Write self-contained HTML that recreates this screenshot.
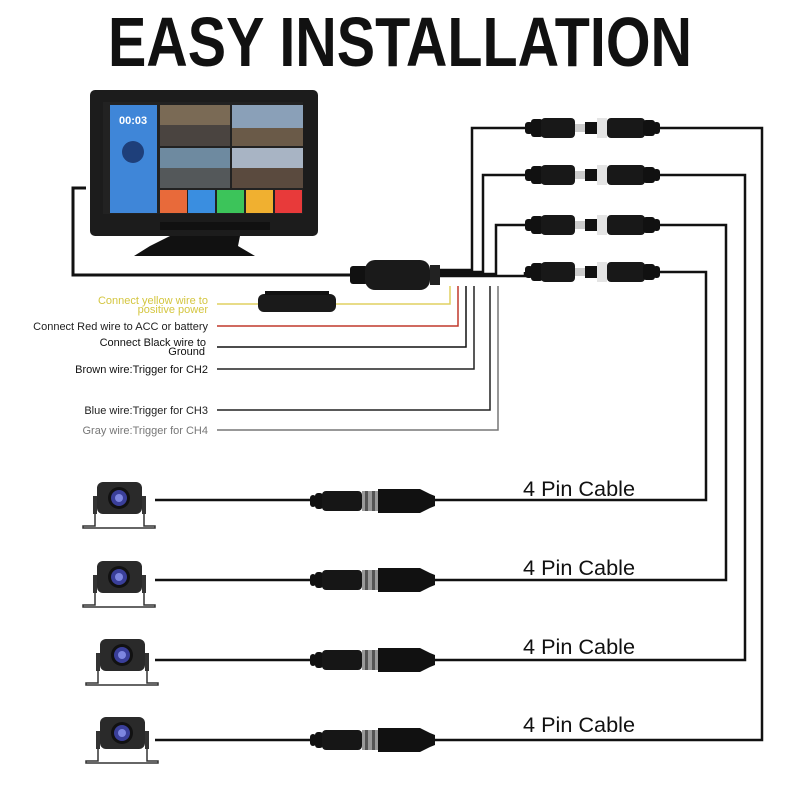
<!DOCTYPE html>
<html><head><meta charset="utf-8"><style>
html,body{margin:0;padding:0;background:#fff;width:800px;height:800px;overflow:hidden}
svg{display:block}
text{font-family:"Liberation Sans",sans-serif}
</style></head><body>
<svg width="800" height="800" viewBox="0 0 800 800" xmlns="http://www.w3.org/2000/svg">
<defs>
<g id="conn">
  <rect x="0" y="-6" width="6" height="12" rx="3" fill="#111"/>
  <rect x="5" y="-8" width="8" height="16" rx="3" fill="#111"/>
  <rect x="12" y="-10" width="40" height="20" rx="4" fill="#161616"/>
  <rect x="52" y="-10" width="16" height="20" fill="#9a9a9a"/>
  <rect x="55" y="-10" width="3" height="20" fill="#555"/>
  <rect x="62" y="-10" width="3" height="20" fill="#555"/>
  <path d="M68,-12 L110,-12 L120,-7 L125,-5 L125,5 L120,7 L110,12 L68,12 Z" fill="#111"/>
</g>
<g id="conn2">
  <rect x="0" y="-6" width="8" height="12" rx="3" fill="#111"/>
  <rect x="6" y="-9" width="12" height="18" rx="3" fill="#111"/>
  <rect x="16" y="-10" width="34" height="20" rx="4" fill="#181818"/>
  <rect x="50" y="-4" width="10" height="8" fill="#ccc"/>
  <rect x="60" y="-6" width="12" height="12" fill="#111"/>
  <rect x="72" y="-10" width="10" height="20" fill="#e4e4e4"/>
  <rect x="82" y="-10" width="38" height="20" rx="4" fill="#181818"/>
  <rect x="118" y="-8" width="12" height="16" rx="3" fill="#111"/>
  <rect x="128" y="-6" width="7" height="12" rx="3" fill="#111"/>
</g>
<g id="cam">
  <rect x="-4" y="-2" width="4" height="18" fill="#333"/>
  <rect x="45" y="-2" width="4" height="18" fill="#333"/>
  <rect x="0" y="-16" width="45" height="32" rx="6" fill="#2a2a2a"/>
  <circle cx="22" cy="0" r="11" fill="#111"/>
  <circle cx="22" cy="0" r="8" fill="#3a3f9a"/>
  <circle cx="22" cy="0" r="4" fill="#7d86e0"/>
  <path d="M-2,16 L-2,28 L-14,28 L-14,30 L58,30 L58,28 L47,28 L47,16" fill="none" stroke="#333" stroke-width="1.5"/>
</g>
</defs>

<text x="108" y="66" font-size="70" font-weight="bold" textLength="584" lengthAdjust="spacingAndGlyphs" fill="#111">EASY INSTALLATION</text>

<rect x="90" y="90" width="228" height="146" rx="5" fill="#1c1c1c"/>
<rect x="103" y="102" width="200" height="112" fill="#222"/>
<rect x="110" y="105" width="47" height="108" fill="#3f86d8"/>
<text x="119" y="124" font-size="11" font-weight="bold" fill="#fff">00:03</text>
<circle cx="133" cy="152" r="11" fill="#1e3f7a"/>
<rect x="160" y="105" width="70" height="41" fill="#7a6a55"/>
<rect x="160" y="125" width="70" height="21" fill="#4a4440"/>
<rect x="232" y="105" width="71" height="41" fill="#8aa0b8"/>
<rect x="232" y="128" width="71" height="18" fill="#6a5a48"/>
<rect x="160" y="148" width="70" height="40" fill="#6e8aa0"/>
<rect x="160" y="168" width="70" height="20" fill="#54585a"/>
<rect x="232" y="148" width="71" height="40" fill="#a8b4c4"/>
<rect x="232" y="168" width="71" height="20" fill="#5a4a3e"/>
<rect x="160" y="190" width="27" height="23" fill="#e86a3a"/>
<rect x="188" y="190" width="27" height="23" fill="#3a8ee0"/>
<rect x="217" y="190" width="27" height="23" fill="#3cc45a"/>
<rect x="246" y="190" width="27" height="23" fill="#f0b030"/>
<rect x="275" y="190" width="27" height="23" fill="#e83a3a"/>
<rect x="160" y="222" width="110" height="8" fill="#111"/>
<path d="M170,236 L240,236 L238,246 L255,256 L134,256 L150,246 Z" fill="#111"/>

<path d="M86,188 L73,188 L73,275 L352,275" fill="none" stroke="#111" stroke-width="3"/>
<rect x="350" y="266" width="18" height="18" rx="3" fill="#111"/>
<rect x="365" y="260" width="65" height="30" rx="10" fill="#1a1a1a"/>
<rect x="430" y="265" width="10" height="20" fill="#222"/>
<rect x="258" y="294" width="78" height="18" rx="6" fill="#1a1a1a"/>
<rect x="265" y="291" width="64" height="4" fill="#111"/>

<g fill="none" stroke="#111" stroke-width="2.5">
<path d="M440,270 L472,270 L472,128 L525,128"/>
<path d="M440,272 L483,272 L483,175 L525,175"/>
<path d="M440,274 L496,274 L496,225 L525,225"/>
<path d="M440,276 L525,276 L525,272"/>
<path d="M660,128 L762,128 L762,740 L155,740"/>
<path d="M660,175 L745,175 L745,660 L155,660"/>
<path d="M660,225 L726,225 L726,580 L155,580"/>
<path d="M660,272 L706,272 L706,500 L155,500"/>
</g>
<use href="#conn2" x="525" y="128"/>
<use href="#conn2" x="525" y="175"/>
<use href="#conn2" x="525" y="225"/>
<use href="#conn2" x="525" y="272"/>

<g fill="none" stroke-width="1.5">
<path d="M217,304 L258,304 M336,304 L450,304 L450,286" stroke="#e0d060"/>
<path d="M217,326 L458,326 L458,286" stroke="#c0392b"/>
<path d="M217,347 L466,347 L466,286" stroke="#111"/>
<path d="M217,369 L474,369 L474,286" stroke="#222"/>
<path d="M217,410 L490,410 L490,286" stroke="#222"/>
<path d="M217,430 L498,430 L498,286" stroke="#777"/>
</g>
<g font-size="11" text-anchor="end">
<text x="208" y="304" fill="#d4c640">Connect yellow wire to</text>
<text x="208" y="313" fill="#d4c640">positive power</text>
<text x="208" y="330" fill="#222">Connect Red wire to ACC or battery</text>
<text x="206" y="346" fill="#111">Connect Black wire to</text>
<text x="205" y="355" fill="#111">Ground</text>
<text x="208" y="373" fill="#111">Brown wire:Trigger for CH2</text>
<text x="208" y="414" fill="#222">Blue wire:Trigger for CH3</text>
<text x="208" y="434" fill="#777">Gray wire:Trigger for CH4</text>
</g>

<use href="#cam" x="97" y="498"/>
<use href="#cam" x="97" y="577"/>
<use href="#cam" x="100" y="655"/>
<use href="#cam" x="100" y="733"/>
<use href="#conn" x="310" y="501"/>
<use href="#conn" x="310" y="580"/>
<use href="#conn" x="310" y="660"/>
<use href="#conn" x="310" y="740"/>
<g font-size="21" fill="#111">
<text x="523" y="496" textLength="112" lengthAdjust="spacingAndGlyphs">4 Pin Cable</text>
<text x="523" y="575" textLength="112" lengthAdjust="spacingAndGlyphs">4 Pin Cable</text>
<text x="523" y="654" textLength="112" lengthAdjust="spacingAndGlyphs">4 Pin Cable</text>
<text x="523" y="732" textLength="112" lengthAdjust="spacingAndGlyphs">4 Pin Cable</text>
</g>
</svg>
</body></html>
